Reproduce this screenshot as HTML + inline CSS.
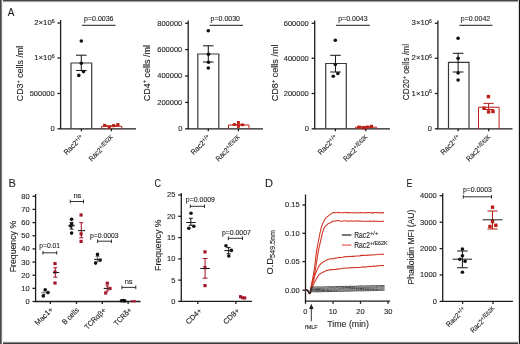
<!DOCTYPE html>
<html><head><meta charset="utf-8"><style>
html,body{margin:0;padding:0;background:#fff;}
body{width:520px;height:344px;overflow:hidden;}
svg{display:block;will-change:transform;font-family:"Liberation Sans",sans-serif;}
text{stroke:#231f20;stroke-width:0.12px;}
</style></head><body>
<svg width="520" height="344" viewBox="0 0 520 344">
<rect x="0" y="0" width="520" height="344" fill="#fff"/>
<text x="7.7" y="15.6" font-size="11" text-anchor="start" fill="#231f20" textLength="6.6" lengthAdjust="spacingAndGlyphs" >A</text>
<text x="8.6" y="187.1" font-size="11" text-anchor="start" fill="#231f20" >B</text>
<text x="154.6" y="187.1" font-size="11" text-anchor="start" fill="#231f20" textLength="6.5" lengthAdjust="spacingAndGlyphs" >C</text>
<text x="265" y="187.1" font-size="11" text-anchor="start" fill="#231f20" >D</text>
<text x="406.4" y="187.0" font-size="11" text-anchor="start" fill="#231f20" textLength="5.9" lengthAdjust="spacingAndGlyphs" >E</text>
<line x1="60.6" y1="20" x2="60.6" y2="128.8" stroke="#1e1c1c" stroke-width="1.3" />
<line x1="57.5" y1="23" x2="60.6" y2="23" stroke="#1e1c1c" stroke-width="1.3" />
<text x="54.7" y="25.2" font-size="7.8" text-anchor="end" fill="#1e1c1c">2×10<tspan font-size="5.2" dy="-2.5">6</tspan></text>
<line x1="57.5" y1="58" x2="60.6" y2="58" stroke="#1e1c1c" stroke-width="1.3" />
<text x="54.7" y="60.2" font-size="7.8" text-anchor="end" fill="#1e1c1c">1×10<tspan font-size="5.2" dy="-2.5">6</tspan></text>
<line x1="57.5" y1="93.5" x2="60.6" y2="93.5" stroke="#1e1c1c" stroke-width="1.3" />
<text x="54.7" y="95.95" font-size="7.5" text-anchor="end" fill="#231f20" >500000</text>
<line x1="57.5" y1="128.8" x2="60.6" y2="128.8" stroke="#1e1c1c" stroke-width="1.3" />
<text x="54.7" y="131.25" font-size="7.5" text-anchor="end" fill="#231f20" >0</text>
<line x1="59.95" y1="128.8" x2="136" y2="128.8" stroke="#1e1c1c" stroke-width="1.3" />
<line x1="81.4" y1="128.8" x2="81.4" y2="131.3" stroke="#1e1c1c" stroke-width="1.3" />
<line x1="111.4" y1="128.8" x2="111.4" y2="131.3" stroke="#1e1c1c" stroke-width="1.3" />
<path d="M71.0 128.8 V63.0 H91.7 V128.8" stroke="#3a3a3a" stroke-width="1.2" fill="none"/>
<line x1="81.3" y1="55.2" x2="81.3" y2="70.5" stroke="#1e1c1c" stroke-width="1.05" />
<line x1="76.0" y1="55.2" x2="86.6" y2="55.2" stroke="#1e1c1c" stroke-width="1.05" />
<line x1="76.0" y1="70.5" x2="86.6" y2="70.5" stroke="#1e1c1c" stroke-width="1.05" />
<circle cx="81.3" cy="41" r="1.8" fill="#111"/>
<circle cx="81.3" cy="63.3" r="1.8" fill="#111"/>
<circle cx="83.5" cy="71.6" r="1.8" fill="#111"/>
<circle cx="78.8" cy="75.4" r="1.8" fill="#111"/>
<path d="M101.6 128.8 V126.3 H121.8 V128.8" stroke="#bb1e16" stroke-width="1.0" fill="none"/>
<line x1="104.5" y1="125.8" x2="118" y2="125.8" stroke="#bb1e16" stroke-width="1" />
<rect x="103.15" y="123.85" width="3.1" height="3.1" fill="#bb1e16"/>
<rect x="107.75" y="125.85" width="3.1" height="3.1" fill="#bb1e16"/>
<rect x="112.05" y="124.05" width="3.1" height="3.1" fill="#bb1e16"/>
<rect x="116.35" y="123.05" width="3.1" height="3.1" fill="#bb1e16"/>
<text x="98.8" y="20.6" font-size="7.5" text-anchor="middle" fill="#231f20" textLength="29.4" lengthAdjust="spacingAndGlyphs" >p=0.0036</text>
<line x1="82" y1="25.3" x2="115.6" y2="25.3" stroke="#1e1c1c" stroke-width="1" />
<text x="23.3" y="73.5" font-size="9.6" text-anchor="middle" fill="#1e1c1c" textLength="55.5" lengthAdjust="spacingAndGlyphs" transform="rotate(-90 23.3 73.5)">CD3<tspan font-size="6.2" dy="-3.6">+</tspan><tspan dy="3.6"> cells /ml</tspan></text>
<text x="84.1" y="137.9" font-size="7.5" text-anchor="end" fill="#1e1c1c" textLength="24.6" lengthAdjust="spacingAndGlyphs" transform="rotate(-45 84.1 137.9)">Rac2<tspan font-size="6.0" dy="-2.1">+/+</tspan></text>
<text x="114.7" y="138.7" font-size="7.5" text-anchor="end" fill="#1e1c1c" textLength="32.5" lengthAdjust="spacingAndGlyphs" transform="rotate(-45 114.7 138.7)">Rac2<tspan font-size="6.0" dy="-2.1">+/E62K</tspan></text>
<line x1="188.2" y1="20.5" x2="188.2" y2="128.8" stroke="#1e1c1c" stroke-width="1.3" />
<line x1="185.1" y1="23.25" x2="188.2" y2="23.25" stroke="#1e1c1c" stroke-width="1.3" />
<text x="182.29999999999998" y="25.7" font-size="7.5" text-anchor="end" fill="#231f20" >800000</text>
<line x1="185.1" y1="49.6" x2="188.2" y2="49.6" stroke="#1e1c1c" stroke-width="1.3" />
<text x="182.29999999999998" y="52.050000000000004" font-size="7.5" text-anchor="end" fill="#231f20" >600000</text>
<line x1="185.1" y1="76" x2="188.2" y2="76" stroke="#1e1c1c" stroke-width="1.3" />
<text x="182.29999999999998" y="78.45" font-size="7.5" text-anchor="end" fill="#231f20" >400000</text>
<line x1="185.1" y1="102.4" x2="188.2" y2="102.4" stroke="#1e1c1c" stroke-width="1.3" />
<text x="182.29999999999998" y="104.85000000000001" font-size="7.5" text-anchor="end" fill="#231f20" >200000</text>
<line x1="185.1" y1="128.8" x2="188.2" y2="128.8" stroke="#1e1c1c" stroke-width="1.3" />
<text x="182.29999999999998" y="131.25" font-size="7.5" text-anchor="end" fill="#231f20" >0</text>
<line x1="187.54999999999998" y1="128.8" x2="263" y2="128.8" stroke="#1e1c1c" stroke-width="1.3" />
<line x1="208.3" y1="128.8" x2="208.3" y2="131.3" stroke="#1e1c1c" stroke-width="1.3" />
<line x1="238.4" y1="128.8" x2="238.4" y2="131.3" stroke="#1e1c1c" stroke-width="1.3" />
<path d="M197.8 128.8 V54.0 H218.8 V128.8" stroke="#3a3a3a" stroke-width="1.2" fill="none"/>
<line x1="208.3" y1="45.8" x2="208.3" y2="62" stroke="#1e1c1c" stroke-width="1.05" />
<line x1="203.0" y1="45.8" x2="213.60000000000002" y2="45.8" stroke="#1e1c1c" stroke-width="1.05" />
<line x1="203.0" y1="62" x2="213.60000000000002" y2="62" stroke="#1e1c1c" stroke-width="1.05" />
<circle cx="208.3" cy="30.8" r="1.8" fill="#111"/>
<circle cx="208.5" cy="54.3" r="1.8" fill="#111"/>
<circle cx="208.5" cy="62.2" r="1.8" fill="#111"/>
<circle cx="208.3" cy="68" r="1.8" fill="#111"/>
<path d="M228.5 128.8 V125.0 H249.0 V128.8" stroke="#bb1e16" stroke-width="1.0" fill="none"/>
<line x1="238.4" y1="121.6" x2="238.4" y2="126.5" stroke="#bb1e16" stroke-width="1" />
<line x1="236.9" y1="121.6" x2="239.9" y2="121.6" stroke="#bb1e16" stroke-width="1" />
<line x1="236.9" y1="126.5" x2="239.9" y2="126.5" stroke="#bb1e16" stroke-width="1" />
<rect x="233.10" y="123.10" width="2.8" height="2.8" fill="#bb1e16"/>
<rect x="237.00" y="121.40" width="2.8" height="2.8" fill="#bb1e16"/>
<rect x="237.00" y="125.10" width="2.8" height="2.8" fill="#bb1e16"/>
<rect x="240.90" y="123.40" width="2.8" height="2.8" fill="#bb1e16"/>
<line x1="232" y1="124.8" x2="245" y2="124.8" stroke="#bb1e16" stroke-width="1" />
<text x="225.3" y="20.6" font-size="7.5" text-anchor="middle" fill="#231f20" textLength="29.4" lengthAdjust="spacingAndGlyphs" >p=0.0030</text>
<line x1="209.5" y1="25.3" x2="243" y2="25.3" stroke="#1e1c1c" stroke-width="1" />
<text x="149.8" y="73.1" font-size="9.6" text-anchor="middle" fill="#1e1c1c" textLength="56.2" lengthAdjust="spacingAndGlyphs" transform="rotate(-90 149.8 73.1)">CD4<tspan font-size="6.2" dy="-3.6">+</tspan><tspan dy="3.6"> cells /ml</tspan></text>
<text x="211.1" y="137.9" font-size="7.5" text-anchor="end" fill="#1e1c1c" textLength="24.6" lengthAdjust="spacingAndGlyphs" transform="rotate(-45 211.1 137.9)">Rac2<tspan font-size="6.0" dy="-2.1">+/+</tspan></text>
<text x="241.7" y="138.7" font-size="7.5" text-anchor="end" fill="#1e1c1c" textLength="32.5" lengthAdjust="spacingAndGlyphs" transform="rotate(-45 241.7 138.7)">Rac2<tspan font-size="6.0" dy="-2.1">+/E62K</tspan></text>
<line x1="314.7" y1="20.5" x2="314.7" y2="128.8" stroke="#1e1c1c" stroke-width="1.3" />
<line x1="311.59999999999997" y1="23.25" x2="314.7" y2="23.25" stroke="#1e1c1c" stroke-width="1.3" />
<text x="308.8" y="25.7" font-size="7.5" text-anchor="end" fill="#231f20" >600000</text>
<line x1="311.59999999999997" y1="58.25" x2="314.7" y2="58.25" stroke="#1e1c1c" stroke-width="1.3" />
<text x="308.8" y="60.7" font-size="7.5" text-anchor="end" fill="#231f20" >400000</text>
<line x1="311.59999999999997" y1="93.5" x2="314.7" y2="93.5" stroke="#1e1c1c" stroke-width="1.3" />
<text x="308.8" y="95.95" font-size="7.5" text-anchor="end" fill="#231f20" >200000</text>
<line x1="311.59999999999997" y1="128.8" x2="314.7" y2="128.8" stroke="#1e1c1c" stroke-width="1.3" />
<text x="308.8" y="131.25" font-size="7.5" text-anchor="end" fill="#231f20" >0</text>
<line x1="314.05" y1="128.8" x2="390" y2="128.8" stroke="#1e1c1c" stroke-width="1.3" />
<line x1="335.4" y1="128.8" x2="335.4" y2="131.3" stroke="#1e1c1c" stroke-width="1.3" />
<line x1="365.8" y1="128.8" x2="365.8" y2="131.3" stroke="#1e1c1c" stroke-width="1.3" />
<path d="M325.7 128.8 V63.5 H346.3 V128.8" stroke="#3a3a3a" stroke-width="1.2" fill="none"/>
<line x1="335.5" y1="55.3" x2="335.5" y2="72" stroke="#1e1c1c" stroke-width="1.05" />
<line x1="330.2" y1="55.3" x2="340.8" y2="55.3" stroke="#1e1c1c" stroke-width="1.05" />
<line x1="330.2" y1="72" x2="340.8" y2="72" stroke="#1e1c1c" stroke-width="1.05" />
<circle cx="335.3" cy="40.3" r="1.8" fill="#111"/>
<circle cx="335.3" cy="64.5" r="1.8" fill="#111"/>
<circle cx="337.8" cy="73.5" r="1.8" fill="#111"/>
<circle cx="333.3" cy="76.3" r="1.8" fill="#111"/>
<path d="M355.5 128.8 V127.2 H376.5 V128.8" stroke="#bb1e16" stroke-width="1.0" fill="none"/>
<rect x="357.60" y="125.60" width="3.2" height="3.2" fill="#bb1e16"/>
<rect x="362.00" y="126.20" width="3.2" height="3.2" fill="#bb1e16"/>
<rect x="365.70" y="125.60" width="3.2" height="3.2" fill="#bb1e16"/>
<rect x="369.80" y="124.80" width="3.2" height="3.2" fill="#bb1e16"/>
<line x1="357" y1="126.8" x2="372" y2="126.8" stroke="#bb1e16" stroke-width="1" />
<text x="352.9" y="20.6" font-size="7.5" text-anchor="middle" fill="#231f20" textLength="29.4" lengthAdjust="spacingAndGlyphs" >p=0.0043</text>
<line x1="336" y1="25.3" x2="370" y2="25.3" stroke="#1e1c1c" stroke-width="1" />
<text x="278.3" y="72.9" font-size="9.6" text-anchor="middle" fill="#1e1c1c" textLength="56.8" lengthAdjust="spacingAndGlyphs" transform="rotate(-90 278.3 72.9)">CD8<tspan font-size="6.2" dy="-3.6">+</tspan><tspan dy="3.6"> cells /ml</tspan></text>
<text x="338.1" y="137.9" font-size="7.5" text-anchor="end" fill="#1e1c1c" textLength="24.6" lengthAdjust="spacingAndGlyphs" transform="rotate(-45 338.1 137.9)">Rac2<tspan font-size="6.0" dy="-2.1">+/+</tspan></text>
<text x="369.2" y="138.7" font-size="7.5" text-anchor="end" fill="#1e1c1c" textLength="32.5" lengthAdjust="spacingAndGlyphs" transform="rotate(-45 369.2 138.7)">Rac2<tspan font-size="6.0" dy="-2.1">+/E62K</tspan></text>
<line x1="437.9" y1="20.5" x2="437.9" y2="128.8" stroke="#1e1c1c" stroke-width="1.3" />
<line x1="434.79999999999995" y1="23.25" x2="437.9" y2="23.25" stroke="#1e1c1c" stroke-width="1.3" />
<text x="432.0" y="25.45" font-size="7.8" text-anchor="end" fill="#1e1c1c">3×10<tspan font-size="5.2" dy="-2.5">6</tspan></text>
<line x1="434.79999999999995" y1="58.25" x2="437.9" y2="58.25" stroke="#1e1c1c" stroke-width="1.3" />
<text x="432.0" y="60.45" font-size="7.8" text-anchor="end" fill="#1e1c1c">2×10<tspan font-size="5.2" dy="-2.5">6</tspan></text>
<line x1="434.79999999999995" y1="93.5" x2="437.9" y2="93.5" stroke="#1e1c1c" stroke-width="1.3" />
<text x="432.0" y="95.7" font-size="7.8" text-anchor="end" fill="#1e1c1c">1×10<tspan font-size="5.2" dy="-2.5">6</tspan></text>
<line x1="434.79999999999995" y1="128.8" x2="437.9" y2="128.8" stroke="#1e1c1c" stroke-width="1.3" />
<text x="432.0" y="131.25" font-size="7.5" text-anchor="end" fill="#231f20" >0</text>
<line x1="437.25" y1="128.8" x2="512.5" y2="128.8" stroke="#1e1c1c" stroke-width="1.3" />
<line x1="458.1" y1="128.8" x2="458.1" y2="131.3" stroke="#1e1c1c" stroke-width="1.3" />
<line x1="488.7" y1="128.8" x2="488.7" y2="131.3" stroke="#1e1c1c" stroke-width="1.3" />
<path d="M448.5 128.8 V62.3 H469.0 V128.8" stroke="#3a3a3a" stroke-width="1.2" fill="none"/>
<line x1="458.1" y1="53.3" x2="458.1" y2="72" stroke="#1e1c1c" stroke-width="1.05" />
<line x1="452.8" y1="53.3" x2="463.40000000000003" y2="53.3" stroke="#1e1c1c" stroke-width="1.05" />
<line x1="452.8" y1="72" x2="463.40000000000003" y2="72" stroke="#1e1c1c" stroke-width="1.05" />
<circle cx="458.1" cy="38.3" r="1.8" fill="#111"/>
<circle cx="458.1" cy="58.3" r="1.8" fill="#111"/>
<circle cx="458.1" cy="73" r="1.8" fill="#111"/>
<circle cx="458.1" cy="80" r="1.8" fill="#111"/>
<path d="M478.5 128.8 V107.2 H499.1 V128.8" stroke="#bb1e16" stroke-width="1.0" fill="none"/>
<line x1="488.6" y1="103.4" x2="488.6" y2="109.5" stroke="#bb1e16" stroke-width="1" />
<line x1="483.5" y1="103.4" x2="493.70000000000005" y2="103.4" stroke="#bb1e16" stroke-width="1" />
<line x1="483.5" y1="109.5" x2="493.70000000000005" y2="109.5" stroke="#bb1e16" stroke-width="1" />
<rect x="486.70" y="94.90" width="3.4" height="3.4" fill="#bb1e16"/>
<rect x="482.40" y="106.60" width="3.4" height="3.4" fill="#bb1e16"/>
<rect x="486.90" y="110.20" width="3.4" height="3.4" fill="#bb1e16"/>
<rect x="491.30" y="109.80" width="3.4" height="3.4" fill="#bb1e16"/>
<text x="475.5" y="20.6" font-size="7.5" text-anchor="middle" fill="#231f20" textLength="29.4" lengthAdjust="spacingAndGlyphs" >p=0.0042</text>
<line x1="459.3" y1="25.3" x2="492.5" y2="25.3" stroke="#1e1c1c" stroke-width="1" />
<text x="409.1" y="72.1" font-size="9.6" text-anchor="middle" fill="#1e1c1c" textLength="56.2" lengthAdjust="spacingAndGlyphs" transform="rotate(-90 409.1 72.1)">CD20<tspan font-size="6.2" dy="-3.6">+</tspan><tspan dy="3.6"> cells /ml</tspan></text>
<text x="460.90000000000003" y="137.9" font-size="7.5" text-anchor="end" fill="#1e1c1c" textLength="24.6" lengthAdjust="spacingAndGlyphs" transform="rotate(-45 460.90000000000003 137.9)">Rac2<tspan font-size="6.0" dy="-2.1">+/+</tspan></text>
<text x="492.2" y="138.7" font-size="7.5" text-anchor="end" fill="#1e1c1c" textLength="32.5" lengthAdjust="spacingAndGlyphs" transform="rotate(-45 492.2 138.7)">Rac2<tspan font-size="6.0" dy="-2.1">+/E62K</tspan></text>
<line x1="35.6" y1="194" x2="35.6" y2="301.5" stroke="#1e1c1c" stroke-width="1.3" />
<line x1="32.5" y1="196.25" x2="35.6" y2="196.25" stroke="#1e1c1c" stroke-width="1.3" />
<text x="29.700000000000003" y="198.7" font-size="7.5" text-anchor="end" fill="#231f20" >80</text>
<line x1="32.5" y1="209.4" x2="35.6" y2="209.4" stroke="#1e1c1c" stroke-width="1.3" />
<text x="29.700000000000003" y="211.85" font-size="7.5" text-anchor="end" fill="#231f20" >70</text>
<line x1="32.5" y1="222.6" x2="35.6" y2="222.6" stroke="#1e1c1c" stroke-width="1.3" />
<text x="29.700000000000003" y="225.04999999999998" font-size="7.5" text-anchor="end" fill="#231f20" >60</text>
<line x1="32.5" y1="235.75" x2="35.6" y2="235.75" stroke="#1e1c1c" stroke-width="1.3" />
<text x="29.700000000000003" y="238.2" font-size="7.5" text-anchor="end" fill="#231f20" >50</text>
<line x1="32.5" y1="248.9" x2="35.6" y2="248.9" stroke="#1e1c1c" stroke-width="1.3" />
<text x="29.700000000000003" y="251.35" font-size="7.5" text-anchor="end" fill="#231f20" >40</text>
<line x1="32.5" y1="262.05" x2="35.6" y2="262.05" stroke="#1e1c1c" stroke-width="1.3" />
<text x="29.700000000000003" y="264.5" font-size="7.5" text-anchor="end" fill="#231f20" >30</text>
<line x1="32.5" y1="275.2" x2="35.6" y2="275.2" stroke="#1e1c1c" stroke-width="1.3" />
<text x="29.700000000000003" y="277.65" font-size="7.5" text-anchor="end" fill="#231f20" >20</text>
<line x1="32.5" y1="288.35" x2="35.6" y2="288.35" stroke="#1e1c1c" stroke-width="1.3" />
<text x="29.700000000000003" y="290.8" font-size="7.5" text-anchor="end" fill="#231f20" >10</text>
<line x1="32.5" y1="301.5" x2="35.6" y2="301.5" stroke="#1e1c1c" stroke-width="1.3" />
<text x="29.700000000000003" y="303.95" font-size="7.5" text-anchor="end" fill="#231f20" >0</text>
<line x1="34.95" y1="301.5" x2="140.5" y2="301.5" stroke="#1e1c1c" stroke-width="1.3" />
<line x1="50.3" y1="301.5" x2="50.3" y2="304.0" stroke="#1e1c1c" stroke-width="1.3" />
<line x1="76.5" y1="301.5" x2="76.5" y2="304.0" stroke="#1e1c1c" stroke-width="1.3" />
<line x1="102.3" y1="301.5" x2="102.3" y2="304.0" stroke="#1e1c1c" stroke-width="1.3" />
<line x1="128.1" y1="301.5" x2="128.1" y2="304.0" stroke="#1e1c1c" stroke-width="1.3" />
<text x="15.6" y="246.6" font-size="9" text-anchor="middle" fill="#1e1c1c" textLength="51.5" lengthAdjust="spacingAndGlyphs" transform="rotate(-90 15.6 246.6)">Frequency %</text>
<text x="53.5" y="310.2" font-size="7.5" text-anchor="end" fill="#1e1c1c" textLength="22.1" lengthAdjust="spacingAndGlyphs" transform="rotate(-45 53.5 310.2)">Mac1+</text>
<text x="79.5" y="310.6" font-size="7.5" text-anchor="end" fill="#1e1c1c" textLength="20.5" lengthAdjust="spacingAndGlyphs" transform="rotate(-45 79.5 310.6)">B cells</text>
<text x="106.5" y="310.9" font-size="7.5" text-anchor="end" fill="#1e1c1c" textLength="27" lengthAdjust="spacingAndGlyphs" transform="rotate(-45 106.5 310.9)">TCRαβ+</text>
<text x="132.3" y="310.7" font-size="7.5" text-anchor="end" fill="#1e1c1c" textLength="22" lengthAdjust="spacingAndGlyphs" transform="rotate(-45 132.3 310.7)">TCRδ+</text>
<line x1="41.2" y1="292.8" x2="47.2" y2="292.8" stroke="#8a8a8a" stroke-width="1.2" />
<line x1="44.2" y1="291.2" x2="44.2" y2="294.4" stroke="#9a9a9a" stroke-width="0.9" />
<line x1="42.7" y1="291.2" x2="45.7" y2="291.2" stroke="#9a9a9a" stroke-width="0.9" />
<line x1="42.7" y1="294.4" x2="45.7" y2="294.4" stroke="#9a9a9a" stroke-width="0.9" />
<circle cx="45.2" cy="289.8" r="1.8" fill="#111"/>
<circle cx="48.0" cy="292.6" r="1.8" fill="#111"/>
<circle cx="43.3" cy="295.9" r="1.8" fill="#111"/>
<line x1="55.3" y1="267.7" x2="55.3" y2="277.2" stroke="#a6172c" stroke-width="1.05" />
<line x1="53.3" y1="267.7" x2="57.3" y2="267.7" stroke="#a6172c" stroke-width="1.05" />
<line x1="53.3" y1="277.2" x2="57.3" y2="277.2" stroke="#a6172c" stroke-width="1.05" />
<rect x="53.40" y="262.00" width="3.2" height="3.2" fill="#a6172c"/>
<rect x="53.40" y="270.40" width="3.2" height="3.2" fill="#a6172c"/>
<rect x="53.40" y="281.40" width="3.2" height="3.2" fill="#a6172c"/>
<line x1="52.9" y1="272.5" x2="59.2" y2="272.5" stroke="#1e1c1c" stroke-width="1.0" />
<line x1="42.9" y1="252.8" x2="56.7" y2="252.8" stroke="#1e1c1c" stroke-width="0.9" />
<line x1="42.9" y1="251.0" x2="42.9" y2="254.60000000000002" stroke="#1e1c1c" stroke-width="0.9" />
<line x1="56.7" y1="251.0" x2="56.7" y2="254.60000000000002" stroke="#1e1c1c" stroke-width="0.9" />
<text x="49.6" y="247.9" font-size="7.5" text-anchor="middle" fill="#231f20" textLength="20.6" lengthAdjust="spacingAndGlyphs" >p=0.01</text>
<line x1="71.6" y1="222.4" x2="71.6" y2="229.1" stroke="#1e1c1c" stroke-width="1.05" />
<line x1="69.69999999999999" y1="222.4" x2="73.5" y2="222.4" stroke="#1e1c1c" stroke-width="1.05" />
<line x1="69.69999999999999" y1="229.1" x2="73.5" y2="229.1" stroke="#1e1c1c" stroke-width="1.05" />
<circle cx="71.6" cy="219.2" r="1.8" fill="#111"/>
<circle cx="71.6" cy="224.3" r="1.8" fill="#111"/>
<circle cx="70.8" cy="226.0" r="1.8" fill="#111"/>
<circle cx="71.6" cy="233.1" r="1.8" fill="#111"/>
<line x1="68.2" y1="225.8" x2="74.8" y2="225.8" stroke="#1e1c1c" stroke-width="1.1" />
<line x1="81.3" y1="222.7" x2="81.3" y2="237.8" stroke="#a6172c" stroke-width="1.05" />
<line x1="79.3" y1="222.7" x2="83.3" y2="222.7" stroke="#a6172c" stroke-width="1.05" />
<line x1="79.3" y1="237.8" x2="83.3" y2="237.8" stroke="#a6172c" stroke-width="1.05" />
<rect x="79.50" y="213.40" width="3.2" height="3.2" fill="#a6172c"/>
<rect x="79.50" y="232.30" width="3.2" height="3.2" fill="#a6172c"/>
<rect x="79.50" y="239.80" width="3.2" height="3.2" fill="#a6172c"/>
<line x1="78" y1="230.6" x2="85.1" y2="230.6" stroke="#1e1c1c" stroke-width="1.1" />
<line x1="70.3" y1="201.5" x2="83.5" y2="201.5" stroke="#1e1c1c" stroke-width="0.9" />
<line x1="70.3" y1="199.7" x2="70.3" y2="203.3" stroke="#1e1c1c" stroke-width="0.9" />
<line x1="83.5" y1="199.7" x2="83.5" y2="203.3" stroke="#1e1c1c" stroke-width="0.9" />
<text x="77.4" y="197.7" font-size="7.5" text-anchor="middle" fill="#231f20" >ns</text>
<line x1="97.5" y1="256.6" x2="97.5" y2="261.6" stroke="#777" stroke-width="1.05" />
<line x1="95.6" y1="256.6" x2="99.4" y2="256.6" stroke="#777" stroke-width="1.05" />
<line x1="95.6" y1="261.6" x2="99.4" y2="261.6" stroke="#777" stroke-width="1.05" />
<circle cx="97.5" cy="254.4" r="1.8" fill="#111"/>
<circle cx="100.2" cy="260.1" r="1.8" fill="#111"/>
<circle cx="95.6" cy="263.1" r="1.8" fill="#111"/>
<line x1="94.2" y1="259.4" x2="99.2" y2="259.4" stroke="#1e1c1c" stroke-width="1.1" />
<line x1="107.3" y1="285.9" x2="107.3" y2="291" stroke="#a6172c" stroke-width="1.05" />
<line x1="105.55" y1="285.9" x2="109.05" y2="285.9" stroke="#a6172c" stroke-width="1.05" />
<line x1="105.55" y1="291" x2="109.05" y2="291" stroke="#a6172c" stroke-width="1.05" />
<rect x="105.70" y="281.60" width="3.2" height="3.2" fill="#a6172c"/>
<rect x="108.40" y="286.90" width="3.2" height="3.2" fill="#a6172c"/>
<rect x="104.10" y="291.40" width="3.2" height="3.2" fill="#a6172c"/>
<line x1="103.7" y1="288.4" x2="109" y2="288.4" stroke="#1e1c1c" stroke-width="1.1" />
<line x1="97.6" y1="241.2" x2="111.4" y2="241.2" stroke="#1e1c1c" stroke-width="0.9" />
<line x1="97.6" y1="239.39999999999998" x2="97.6" y2="243.0" stroke="#1e1c1c" stroke-width="0.9" />
<line x1="111.4" y1="239.39999999999998" x2="111.4" y2="243.0" stroke="#1e1c1c" stroke-width="0.9" />
<text x="104.3" y="237.7" font-size="7.5" text-anchor="middle" fill="#231f20" textLength="28.4" lengthAdjust="spacingAndGlyphs" >p=0.0003</text>
<circle cx="121.5" cy="300.8" r="1.8" fill="#111"/>
<circle cx="123.2" cy="300.6" r="1.8" fill="#111"/>
<circle cx="124.8" cy="300.9" r="1.8" fill="#111"/>
<line x1="131" y1="301.3" x2="135.7" y2="301.3" stroke="#a6172c" stroke-width="2.2" />
<line x1="121.9" y1="287.4" x2="135.8" y2="287.4" stroke="#1e1c1c" stroke-width="0.9" />
<line x1="121.9" y1="285.59999999999997" x2="121.9" y2="289.2" stroke="#1e1c1c" stroke-width="0.9" />
<line x1="135.8" y1="285.59999999999997" x2="135.8" y2="289.2" stroke="#1e1c1c" stroke-width="0.9" />
<text x="128.6" y="284" font-size="7.5" text-anchor="middle" fill="#231f20" >ns</text>
<line x1="181.3" y1="193" x2="181.3" y2="301.4" stroke="#1e1c1c" stroke-width="1.3" />
<line x1="178.20000000000002" y1="195.0" x2="181.3" y2="195.0" stroke="#1e1c1c" stroke-width="1.3" />
<text x="175.4" y="197.45" font-size="7.5" text-anchor="end" fill="#231f20" >25</text>
<line x1="178.20000000000002" y1="216.3" x2="181.3" y2="216.3" stroke="#1e1c1c" stroke-width="1.3" />
<text x="175.4" y="218.75" font-size="7.5" text-anchor="end" fill="#231f20" >20</text>
<line x1="178.20000000000002" y1="237.6" x2="181.3" y2="237.6" stroke="#1e1c1c" stroke-width="1.3" />
<text x="175.4" y="240.04999999999998" font-size="7.5" text-anchor="end" fill="#231f20" >15</text>
<line x1="178.20000000000002" y1="258.9" x2="181.3" y2="258.9" stroke="#1e1c1c" stroke-width="1.3" />
<text x="175.4" y="261.34999999999997" font-size="7.5" text-anchor="end" fill="#231f20" >10</text>
<line x1="178.20000000000002" y1="280.1" x2="181.3" y2="280.1" stroke="#1e1c1c" stroke-width="1.3" />
<text x="175.4" y="282.55" font-size="7.5" text-anchor="end" fill="#231f20" >5</text>
<line x1="178.20000000000002" y1="301.4" x2="181.3" y2="301.4" stroke="#1e1c1c" stroke-width="1.3" />
<text x="175.4" y="303.84999999999997" font-size="7.5" text-anchor="end" fill="#231f20" >0</text>
<line x1="180.65" y1="301.4" x2="252" y2="301.4" stroke="#1e1c1c" stroke-width="1.3" />
<line x1="197.8" y1="301.4" x2="197.8" y2="303.9" stroke="#1e1c1c" stroke-width="1.3" />
<line x1="235.9" y1="301.4" x2="235.9" y2="303.9" stroke="#1e1c1c" stroke-width="1.3" />
<text x="160.9" y="245.2" font-size="9" text-anchor="middle" fill="#1e1c1c" textLength="51.5" lengthAdjust="spacingAndGlyphs" transform="rotate(-90 160.9 245.2)">Frequency %</text>
<text x="202.4" y="311.1" font-size="7.5" text-anchor="end" fill="#1e1c1c" transform="rotate(-45 202.4 311.1)">CD4+</text>
<text x="240" y="311.1" font-size="7.5" text-anchor="end" fill="#1e1c1c" transform="rotate(-45 240 311.1)">CD8+</text>
<line x1="190.8" y1="218.3" x2="190.8" y2="225.3" stroke="#1e1c1c" stroke-width="1.05" />
<line x1="188.8" y1="218.3" x2="192.8" y2="218.3" stroke="#1e1c1c" stroke-width="1.05" />
<line x1="188.8" y1="225.3" x2="192.8" y2="225.3" stroke="#1e1c1c" stroke-width="1.05" />
<circle cx="191" cy="213.3" r="1.8" fill="#111"/>
<circle cx="188.8" cy="228.3" r="1.8" fill="#111"/>
<circle cx="193.8" cy="226.3" r="1.8" fill="#111"/>
<line x1="186.2" y1="222.5" x2="195.6" y2="222.5" stroke="#1e1c1c" stroke-width="1.0" />
<line x1="205.1" y1="258.5" x2="205.1" y2="278.2" stroke="#a6172c" stroke-width="1.05" />
<line x1="202.6" y1="258.5" x2="207.6" y2="258.5" stroke="#a6172c" stroke-width="1.05" />
<line x1="202.6" y1="278.2" x2="207.6" y2="278.2" stroke="#a6172c" stroke-width="1.05" />
<rect x="203.40" y="250.30" width="3.2" height="3.2" fill="#a6172c"/>
<rect x="203.40" y="266.00" width="3.2" height="3.2" fill="#a6172c"/>
<rect x="203.40" y="284.00" width="3.2" height="3.2" fill="#a6172c"/>
<line x1="200.2" y1="268.5" x2="210.0" y2="268.5" stroke="#1e1c1c" stroke-width="1.0" />
<line x1="190.3" y1="206.3" x2="204.5" y2="206.3" stroke="#1e1c1c" stroke-width="0.9" />
<line x1="190.3" y1="204.5" x2="190.3" y2="208.10000000000002" stroke="#1e1c1c" stroke-width="0.9" />
<line x1="204.5" y1="204.5" x2="204.5" y2="208.10000000000002" stroke="#1e1c1c" stroke-width="0.9" />
<text x="200.4" y="202" font-size="7.5" text-anchor="middle" fill="#231f20" textLength="29.2" lengthAdjust="spacingAndGlyphs" >p=0.0009</text>
<line x1="228.6" y1="247.6" x2="228.6" y2="253.8" stroke="#1e1c1c" stroke-width="1.05" />
<line x1="226.6" y1="247.6" x2="230.6" y2="247.6" stroke="#1e1c1c" stroke-width="1.05" />
<line x1="226.6" y1="253.8" x2="230.6" y2="253.8" stroke="#1e1c1c" stroke-width="1.05" />
<circle cx="226" cy="245.7" r="1.8" fill="#111"/>
<circle cx="231.4" cy="250.4" r="1.8" fill="#111"/>
<circle cx="228.8" cy="256" r="1.8" fill="#111"/>
<line x1="224.4" y1="250.6" x2="233" y2="250.6" stroke="#1e1c1c" stroke-width="1.1" />
<rect x="239.00" y="295.10" width="3.0" height="3.0" fill="#a6172c"/>
<rect x="241.10" y="296.30" width="3.0" height="3.0" fill="#a6172c"/>
<rect x="243.30" y="296.50" width="3.0" height="3.0" fill="#a6172c"/>
<line x1="239.5" y1="297.6" x2="246" y2="297.6" stroke="#a6172c" stroke-width="1.5" />
<line x1="228.3" y1="238.3" x2="242.5" y2="238.3" stroke="#1e1c1c" stroke-width="0.9" />
<line x1="228.3" y1="236.5" x2="228.3" y2="240.10000000000002" stroke="#1e1c1c" stroke-width="0.9" />
<line x1="242.5" y1="236.5" x2="242.5" y2="240.10000000000002" stroke="#1e1c1c" stroke-width="0.9" />
<text x="236.4" y="234.5" font-size="7.5" text-anchor="middle" fill="#231f20" textLength="28.8" lengthAdjust="spacingAndGlyphs" >p=0.0007</text>
<line x1="305.5" y1="194.5" x2="305.5" y2="301.2" stroke="#1e1c1c" stroke-width="1.3" />
<line x1="302.4" y1="205.0" x2="305.5" y2="205.0" stroke="#1e1c1c" stroke-width="1.3" />
<text x="299.6" y="207.45" font-size="7.5" text-anchor="end" fill="#231f20" >0.15</text>
<line x1="302.4" y1="233.3" x2="305.5" y2="233.3" stroke="#1e1c1c" stroke-width="1.3" />
<text x="299.6" y="235.75" font-size="7.5" text-anchor="end" fill="#231f20" >0.10</text>
<line x1="302.4" y1="261.6" x2="305.5" y2="261.6" stroke="#1e1c1c" stroke-width="1.3" />
<text x="299.6" y="264.05" font-size="7.5" text-anchor="end" fill="#231f20" >0.05</text>
<line x1="302.4" y1="290.2" x2="305.5" y2="290.2" stroke="#1e1c1c" stroke-width="1.3" />
<text x="299.6" y="292.65" font-size="7.5" text-anchor="end" fill="#231f20" >0.00</text>
<line x1="304.85" y1="301.2" x2="390.2" y2="301.2" stroke="#1e1c1c" stroke-width="1.3" />
<line x1="305.5" y1="301.2" x2="305.5" y2="303.8" stroke="#1e1c1c" stroke-width="1.3" />
<line x1="333.0" y1="301.2" x2="333.0" y2="303.8" stroke="#1e1c1c" stroke-width="1.3" />
<line x1="360.5" y1="301.2" x2="360.5" y2="303.8" stroke="#1e1c1c" stroke-width="1.3" />
<line x1="388.0" y1="301.2" x2="388.0" y2="303.8" stroke="#1e1c1c" stroke-width="1.3" />
<text x="305.3" y="314.2" font-size="7.5" text-anchor="middle" fill="#231f20" >0</text>
<text x="332.8" y="314.2" font-size="7.5" text-anchor="middle" fill="#231f20" >10</text>
<text x="360.5" y="314.2" font-size="7.5" text-anchor="middle" fill="#231f20" >20</text>
<text x="388.2" y="314.2" font-size="7.5" text-anchor="middle" fill="#231f20" >30</text>
<text x="348.1" y="327.0" font-size="9.5" text-anchor="middle" fill="#231f20" textLength="41.6" lengthAdjust="spacingAndGlyphs" >Time (min)</text>
<text x="273.5" y="274.6" font-size="9.9" fill="#1e1c1c" textLength="16.6" lengthAdjust="spacingAndGlyphs" transform="rotate(-90 273.5 274.6)">O.D</text>
<text x="275.0" y="257.9" font-size="6.6" fill="#1e1c1c" textLength="28.0" lengthAdjust="spacingAndGlyphs" transform="rotate(-90 275.0 257.9)">549.5nm</text>
<line x1="311.3" y1="306.5" x2="311.3" y2="321.2" stroke="#1e1c1c" stroke-width="0.9" />
<path d="M311.3 303.8 L309.1 309 L313.5 309 Z" fill="#1e1c1c"/>
<text x="311.4" y="329" font-size="5.6" text-anchor="middle" fill="#231f20" textLength="12.6" lengthAdjust="spacingAndGlyphs" >fMLF</text>
<line x1="341.9" y1="235" x2="351.4" y2="235" stroke="#4a4a4a" stroke-width="1.5" />
<line x1="341.9" y1="245.1" x2="351.4" y2="245.1" stroke="#de6a55" stroke-width="1.3" />
<text x="354.3" y="238.3" font-size="8.4" fill="#1e1c1c"><tspan textLength="15.6" lengthAdjust="spacingAndGlyphs">Rac2</tspan><tspan font-size="5.6" dy="-3.1" textLength="8.4" lengthAdjust="spacingAndGlyphs">+/+</tspan></text>
<text x="354.3" y="248.2" font-size="8.4" fill="#1e1c1c"><tspan textLength="15.6" lengthAdjust="spacingAndGlyphs">Rac2</tspan><tspan font-size="5.6" dy="-3.1" textLength="17.8" lengthAdjust="spacingAndGlyphs">+/E62K</tspan></text>
<path d="M305.50 289.90 L306.48 289.95 L307.70 290.40 L308.39 291.70 L309.06 293.31 L309.70 293.60 L309.92 293.13 L310.12 292.43 L310.31 291.52 L310.50 290.44 L310.70 289.21 L310.90 287.88 L311.14 286.46 L311.40 285.00 L311.56 284.19 L311.72 283.34 L311.90 282.46 L312.08 281.74 L312.27 280.74 L312.46 279.56 L312.66 278.45 L312.86 277.58 L313.06 276.47 L313.26 275.63 L313.46 274.26 L313.65 273.28 L313.84 272.25 L314.03 271.35 L314.20 270.00 L314.34 268.94 L314.48 268.26 L314.61 267.20 L314.74 265.98 L314.87 265.35 L315.00 264.36 L315.12 263.22 L315.25 262.23 L315.37 260.82 L315.49 260.03 L315.61 259.09 L315.74 257.93 L315.86 256.78 L315.99 255.55 L316.11 254.76 L316.24 253.91 L316.37 253.15 L316.50 252.28 L316.67 250.85 L316.85 249.98 L317.03 248.53 L317.21 247.79 L317.39 246.59 L317.57 245.24 L317.75 244.66 L317.93 243.48 L318.11 242.77 L318.29 241.73 L318.47 240.40 L318.65 239.78 L318.83 239.10 L319.00 237.85 L319.24 236.68 L319.48 235.81 L319.71 234.24 L319.95 233.33 L320.18 232.04 L320.41 231.43 L320.64 230.33 L320.86 229.17 L321.08 228.07 L321.30 227.39 L321.71 226.11 L322.10 225.25 L322.49 223.83 L322.88 223.23 L323.30 222.42 L323.86 221.15 L324.44 220.16 L325.05 218.94 L325.70 218.28 L326.66 217.11 L327.69 216.35 L328.70 215.57 L329.60 214.92 L330.47 214.11 L331.50 213.65 L332.21 213.13 L332.88 212.79 L333.91 212.57 L335.70 212.67 L336.36 212.66 L337.04 212.53 L337.74 212.28 L338.48 212.68 L339.25 212.74 L340.09 212.77 L340.99 212.73 L341.96 212.77 L343.02 212.80 L344.18 212.58 L345.45 212.50 L346.83 212.70 L348.35 212.46 L350.00 212.79 L350.74 212.81 L351.54 212.84 L352.40 212.66 L353.31 212.89 L354.26 212.67 L355.26 212.60 L356.29 212.73 L357.36 212.94 L358.47 212.89 L359.59 212.83 L360.75 212.41 L361.91 212.73 L363.10 212.66 L364.29 212.76 L365.49 212.89 L366.69 212.54 L367.89 212.84 L369.09 212.48 L370.27 212.55 L371.44 212.90 L372.59 212.63 L373.72 212.93 L374.82 212.50 L375.89 212.54 L376.93 212.87 L377.92 212.49 L378.88 212.81 L379.78 213.02 L380.64 212.80 L381.44 212.89 L382.18 212.50 L382.85 212.87 L383.46 212.86 L384.00 212.85" fill="none" stroke="#d0301f" stroke-width="1.05" stroke-linejoin="round"/>
<path d="M305.50 289.90 L306.48 289.95 L307.70 290.40 L308.38 291.70 L309.03 293.31 L309.70 293.60 L309.95 293.13 L310.19 292.43 L310.42 291.52 L310.66 290.44 L310.91 289.21 L311.17 287.88 L311.47 286.46 L311.80 285.00 L311.99 284.19 L312.20 283.12 L312.42 282.67 L312.65 281.70 L312.89 280.44 L313.13 279.60 L313.38 278.57 L313.63 277.66 L313.88 276.70 L314.13 275.22 L314.37 274.10 L314.62 273.50 L314.85 272.16 L315.08 271.26 L315.30 269.70 L315.48 269.04 L315.65 268.24 L315.82 266.96 L315.98 266.39 L316.14 265.35 L316.30 263.79 L316.46 262.75 L316.62 262.01 L316.77 261.20 L316.93 259.82 L317.09 258.68 L317.24 257.77 L317.40 256.51 L317.55 255.62 L317.71 254.77 L317.87 253.84 L318.03 252.75 L318.20 251.84 L318.42 250.70 L318.64 249.72 L318.86 248.52 L319.09 247.28 L319.32 246.71 L319.55 245.50 L319.77 244.54 L320.00 243.27 L320.23 242.78 L320.45 241.75 L320.67 240.38 L320.89 239.61 L321.10 238.98 L321.30 238.13 L321.60 237.00 L321.87 235.49 L322.14 234.60 L322.39 233.42 L322.65 232.18 L322.91 231.39 L323.18 230.66 L323.48 229.79 L323.80 228.80 L324.45 227.63 L325.17 226.30 L325.91 225.60 L326.67 225.23 L327.40 224.35 L328.28 223.52 L329.16 223.24 L330.03 222.92 L330.90 222.50 L331.80 221.77 L332.71 221.31 L334.40 221.01 L335.04 221.10 L335.61 220.90 L336.16 220.79 L336.77 220.83 L337.48 220.55 L338.37 220.56 L339.51 220.97 L340.95 221.15 L342.76 220.94 L345.00 220.84 L345.67 220.71 L346.39 220.91 L347.18 221.21 L348.01 221.09 L348.90 220.96 L349.83 221.17 L350.80 220.80 L351.81 220.98 L352.86 221.26 L353.94 221.04 L355.05 220.99 L356.18 220.89 L357.34 221.07 L358.52 221.33 L359.71 220.77 L360.91 221.26 L362.12 221.30 L363.34 221.35 L364.55 221.28 L365.77 221.34 L366.98 221.18 L368.18 221.22 L369.37 221.16 L370.55 220.95 L371.70 221.45 L372.84 221.29 L373.95 221.08 L375.02 221.28 L376.07 221.28 L377.08 221.22 L378.05 221.23 L378.98 221.36 L379.86 221.42 L380.70 221.42 L381.48 221.34 L382.20 221.09 L382.86 221.22 L383.47 221.20 L384.00 221.45" fill="none" stroke="#d0301f" stroke-width="1.05" stroke-linejoin="round"/>
<path d="M305.50 289.90 L306.48 289.95 L307.70 290.40 L308.39 291.63 L309.05 293.16 L309.70 293.60 L310.03 293.05 L310.35 292.07 L310.68 290.82 L310.99 289.45 L311.30 288.13 L311.60 287.00 L311.94 285.90 L312.26 285.17 L312.57 284.21 L312.88 282.69 L313.20 281.65 L313.46 281.14 L313.71 280.08 L313.96 279.01 L314.21 277.76 L314.49 276.89 L314.80 275.86 L315.14 274.81 L315.52 273.48 L315.91 272.57 L316.31 271.51 L316.71 270.72 L317.10 270.00 L317.63 268.83 L318.14 267.60 L318.68 266.65 L319.30 265.66 L320.05 264.63 L320.88 263.76 L321.75 263.21 L322.60 262.39 L323.68 261.57 L324.76 261.15 L325.90 260.32 L326.76 259.99 L327.61 259.54 L328.58 259.18 L329.80 259.10 L330.65 258.79 L331.59 258.82 L332.61 258.90 L333.69 258.49 L334.79 257.99 L335.90 258.22 L337.00 257.98 L337.75 257.81 L338.22 257.81 L338.58 257.63 L339.01 257.56 L339.69 257.20 L340.80 257.46 L342.51 257.29 L345.00 256.60 L345.64 256.90 L346.33 256.82 L347.09 256.61 L347.90 256.59 L348.77 256.50 L349.68 256.70 L350.64 256.37 L351.64 256.49 L352.68 256.13 L353.76 256.37 L354.86 256.30 L355.99 255.96 L357.15 255.94 L358.32 256.06 L359.52 255.86 L360.72 255.63 L361.94 255.39 L363.16 255.36 L364.39 255.50 L365.61 255.09 L366.83 255.45 L368.04 254.98 L369.24 255.29 L370.43 254.84 L371.60 255.15 L372.74 254.92 L373.86 254.72 L374.95 254.65 L376.01 254.65 L377.03 254.54 L378.01 254.31 L378.95 254.18 L379.84 254.30 L380.68 254.50 L381.46 254.25 L382.19 253.87 L382.86 254.27 L383.46 254.17 L384.00 254.24" fill="none" stroke="#d0301f" stroke-width="1.05" stroke-linejoin="round"/>
<path d="M305.50 289.90 L306.48 289.95 L307.70 290.40 L308.36 291.59 L309.00 293.09 L309.70 293.60 L310.10 293.16 L310.53 292.32 L310.98 291.24 L311.42 290.07 L311.84 288.94 L312.20 287.84 L312.63 286.94 L312.96 285.90 L313.29 285.13 L313.70 284.18 L314.22 282.76 L314.81 281.61 L315.41 280.98 L316.00 279.56 L316.56 278.49 L317.11 277.91 L317.65 276.63 L318.20 276.00 L318.89 274.92 L319.59 274.33 L320.40 273.39 L321.40 273.01 L322.51 272.51 L323.70 271.71 L324.64 271.44 L325.62 271.02 L326.62 270.32 L327.60 270.45 L328.81 270.10 L330.00 269.76 L331.40 269.42 L332.37 269.79 L333.40 269.42 L334.50 269.42 L335.70 269.38 L337.00 269.13 L337.67 269.17 L338.10 268.79 L338.46 268.97 L338.91 268.69 L339.62 268.90 L340.76 268.76 L342.50 268.15 L345.00 267.98 L345.64 267.98 L346.33 268.38 L347.09 268.01 L347.90 268.06 L348.77 267.81 L349.68 267.87 L350.64 267.73 L351.64 267.63 L352.68 267.70 L353.76 267.63 L354.86 267.74 L355.99 267.53 L357.15 267.60 L358.32 267.47 L359.52 267.47 L360.72 267.20 L361.94 266.81 L363.16 267.14 L364.39 267.12 L365.61 267.00 L366.83 266.72 L368.04 266.72 L369.24 266.34 L370.43 266.63 L371.60 266.39 L372.74 266.14 L373.86 265.93 L374.95 266.33 L376.01 266.34 L377.03 265.73 L378.01 266.09 L378.95 265.79 L379.84 265.58 L380.68 265.60 L381.46 265.84 L382.19 265.85 L382.86 265.31 L383.46 265.61 L384.00 265.23" fill="none" stroke="#d0301f" stroke-width="1.05" stroke-linejoin="round"/>
<path d="M305.50 289.90 L306.48 289.95 L307.70 290.40 L308.72 292.43 L309.70 293.60 L310.03 292.53 L310.25 290.61 L310.67 288.59 L311.60 287.20 L311.97 286.78 L311.80 286.74 L312.29 286.89 L314.63 287.01 L320.00 287.02 L320.89 286.91 L321.88 287.03 L322.95 287.01 L324.11 286.94 L325.34 286.79 L326.64 286.85 L328.01 286.77 L329.45 286.72 L330.95 286.85 L332.50 286.83 L334.10 286.56 L335.74 286.72 L337.43 286.62 L339.15 286.53 L340.91 286.46 L342.69 286.51 L344.49 286.42 L346.32 286.43 L348.15 286.38 L350.00 286.21 L351.85 286.32 L353.70 286.33 L355.55 286.29 L357.38 286.16 L359.21 285.98 L361.01 285.93 L362.79 285.92 L364.55 286.07 L366.27 285.88 L367.96 285.85 L369.60 285.94 L371.20 285.76 L372.75 285.78 L374.25 285.72 L375.68 285.60 L377.06 285.69 L378.36 285.73 L379.59 285.53 L380.75 285.52 L381.82 285.54 L382.81 285.43 L383.70 285.52 L384.50 285.58" fill="none" stroke="#2e2e2e" stroke-width="0.9"/>
<path d="M305.50 289.90 L306.48 289.95 L307.70 290.40 L308.72 292.36 L309.70 293.60 L310.10 292.30 L310.49 290.07 L311.60 288.40 L311.97 288.06 L311.80 288.02 L312.29 288.12 L314.63 288.26 L320.00 288.30 L320.89 288.17 L321.88 288.16 L322.95 288.15 L324.11 288.03 L325.34 288.08 L326.64 288.08 L328.01 288.08 L329.45 287.88 L330.95 287.90 L332.50 287.81 L334.10 287.95 L335.74 287.88 L337.43 287.68 L339.15 287.87 L340.91 287.82 L342.69 287.71 L344.49 287.66 L346.32 287.51 L348.15 287.43 L350.00 287.51 L351.85 287.35 L353.70 287.34 L355.55 287.31 L357.38 287.22 L359.21 287.28 L361.01 287.23 L362.79 287.29 L364.55 287.17 L366.27 287.16 L367.96 287.08 L369.60 287.09 L371.20 287.00 L372.75 286.92 L374.25 287.06 L375.68 287.02 L377.06 286.95 L378.36 286.89 L379.59 286.77 L380.75 286.72 L381.82 286.71 L382.81 286.64 L383.70 286.78 L384.50 286.68" fill="none" stroke="#2e2e2e" stroke-width="0.9"/>
<path d="M305.50 289.90 L306.48 289.95 L307.70 290.40 L308.72 292.28 L309.70 293.60 L310.25 291.81 L311.60 289.60 L311.97 289.34 L311.80 289.31 L312.29 289.39 L314.63 289.50 L320.00 289.44 L320.89 289.29 L321.88 289.24 L322.95 289.30 L324.11 289.25 L325.34 289.35 L326.64 289.29 L328.01 289.24 L329.45 289.19 L330.95 289.18 L332.50 289.02 L334.10 289.06 L335.74 288.95 L337.43 289.09 L339.15 288.85 L340.91 288.99 L342.69 288.77 L344.49 288.87 L346.32 288.75 L348.15 288.72 L350.00 288.78 L351.85 288.54 L353.70 288.51 L355.55 288.67 L357.38 288.53 L359.21 288.39 L361.01 288.56 L362.79 288.51 L364.55 288.27 L366.27 288.31 L367.96 288.20 L369.60 288.20 L371.20 288.24 L372.75 288.09 L374.25 288.19 L375.68 288.00 L377.06 287.99 L378.36 288.12 L379.59 287.99 L380.75 287.97 L381.82 287.99 L382.81 287.93 L383.70 287.89 L384.50 287.79" fill="none" stroke="#2e2e2e" stroke-width="0.9"/>
<path d="M305.50 289.90 L306.48 289.95 L307.70 290.40 L308.72 292.21 L309.70 293.60 L310.25 292.41 L311.60 290.80 L311.97 290.61 L311.80 290.60 L312.29 290.59 L314.63 290.73 L320.00 290.64 L320.89 290.66 L321.88 290.48 L322.95 290.47 L324.11 290.42 L325.34 290.41 L326.64 290.50 L328.01 290.32 L329.45 290.39 L330.95 290.28 L332.50 290.26 L334.10 290.26 L335.74 290.31 L337.43 290.22 L339.15 290.04 L340.91 290.06 L342.69 289.99 L344.49 290.12 L346.32 290.06 L348.15 290.02 L350.00 289.98 L351.85 289.92 L353.70 289.92 L355.55 289.84 L357.38 289.67 L359.21 289.77 L361.01 289.64 L362.79 289.67 L364.55 289.58 L366.27 289.51 L367.96 289.45 L369.60 289.43 L371.20 289.36 L372.75 289.28 L374.25 289.42 L375.68 289.38 L377.06 289.39 L378.36 289.29 L379.59 289.23 L380.75 289.25 L381.82 289.07 L382.81 289.18 L383.70 289.11 L384.50 289.02" fill="none" stroke="#2e2e2e" stroke-width="0.9"/>
<path d="M305.50 289.90 L306.48 289.95 L307.70 290.40 L308.72 292.14 L309.70 293.60 L310.25 292.96 L311.60 291.90 L311.97 291.78 L311.80 291.77 L312.29 291.70 L314.63 291.84 L320.00 291.74 L320.89 291.79 L321.88 291.60 L322.95 291.58 L324.11 291.67 L325.34 291.62 L326.64 291.51 L328.01 291.57 L329.45 291.47 L330.95 291.53 L332.50 291.34 L334.10 291.33 L335.74 291.45 L337.43 291.29 L339.15 291.23 L340.91 291.32 L342.69 291.24 L344.49 291.08 L346.32 291.14 L348.15 291.13 L350.00 290.97 L351.85 291.04 L353.70 290.88 L355.55 290.89 L357.38 290.79 L359.21 290.78 L361.01 290.92 L362.79 290.75 L364.55 290.85 L366.27 290.68 L367.96 290.68 L369.60 290.71 L371.20 290.63 L372.75 290.46 L374.25 290.54 L375.68 290.52 L377.06 290.38 L378.36 290.34 L379.59 290.50 L380.75 290.38 L381.82 290.28 L382.81 290.33 L383.70 290.25 L384.50 290.37" fill="none" stroke="#2e2e2e" stroke-width="0.9"/>
<line x1="442.7" y1="193.2" x2="442.7" y2="301.4" stroke="#1e1c1c" stroke-width="1.3" />
<line x1="439.59999999999997" y1="195.75" x2="442.7" y2="195.75" stroke="#1e1c1c" stroke-width="1.3" />
<text x="436.8" y="198.2" font-size="7.5" text-anchor="end" fill="#231f20" >4000</text>
<line x1="439.59999999999997" y1="222.2" x2="442.7" y2="222.2" stroke="#1e1c1c" stroke-width="1.3" />
<text x="436.8" y="224.64999999999998" font-size="7.5" text-anchor="end" fill="#231f20" >3000</text>
<line x1="439.59999999999997" y1="248.6" x2="442.7" y2="248.6" stroke="#1e1c1c" stroke-width="1.3" />
<text x="436.8" y="251.04999999999998" font-size="7.5" text-anchor="end" fill="#231f20" >2000</text>
<line x1="439.59999999999997" y1="275.0" x2="442.7" y2="275.0" stroke="#1e1c1c" stroke-width="1.3" />
<text x="436.8" y="277.45" font-size="7.5" text-anchor="end" fill="#231f20" >1000</text>
<line x1="439.59999999999997" y1="301.4" x2="442.7" y2="301.4" stroke="#1e1c1c" stroke-width="1.3" />
<text x="436.8" y="303.84999999999997" font-size="7.5" text-anchor="end" fill="#231f20" >0</text>
<line x1="442.05" y1="301.4" x2="513" y2="301.4" stroke="#1e1c1c" stroke-width="1.3" />
<line x1="462.6" y1="301.4" x2="462.6" y2="303.9" stroke="#1e1c1c" stroke-width="1.3" />
<line x1="493.0" y1="301.4" x2="493.0" y2="303.9" stroke="#1e1c1c" stroke-width="1.3" />
<text x="413.6" y="247" font-size="9" text-anchor="middle" fill="#1e1c1c" textLength="75" lengthAdjust="spacingAndGlyphs" transform="rotate(-90 413.6 247)">Phalloidin MFI (AU)</text>
<text x="466.30000000000007" y="310.2" font-size="7.5" text-anchor="end" fill="#1e1c1c" textLength="24.6" lengthAdjust="spacingAndGlyphs" transform="rotate(-45 466.30000000000007 310.2)">Rac2<tspan font-size="6.0" dy="-2.1">+/+</tspan></text>
<text x="496.2" y="310.3" font-size="7.5" text-anchor="end" fill="#1e1c1c" textLength="32.5" lengthAdjust="spacingAndGlyphs" transform="rotate(-45 496.2 310.3)">Rac2<tspan font-size="6.0" dy="-2.1">+/E62K</tspan></text>
<line x1="462.4" y1="251" x2="462.4" y2="267.7" stroke="#1e1c1c" stroke-width="1.05" />
<line x1="457.15" y1="251" x2="467.65" y2="251" stroke="#1e1c1c" stroke-width="1.05" />
<line x1="457.15" y1="267.7" x2="467.65" y2="267.7" stroke="#1e1c1c" stroke-width="1.05" />
<circle cx="462.4" cy="249.1" r="1.8" fill="#111"/>
<circle cx="462.4" cy="255.7" r="1.8" fill="#111"/>
<circle cx="459.8" cy="259.2" r="1.8" fill="#111"/>
<circle cx="465.1" cy="261.2" r="1.8" fill="#111"/>
<circle cx="462.4" cy="272.3" r="1.8" fill="#111"/>
<line x1="452.6" y1="259.2" x2="472" y2="259.2" stroke="#1e1c1c" stroke-width="1" />
<line x1="492.5" y1="211" x2="492.5" y2="229" stroke="#bb1e16" stroke-width="1.05" />
<line x1="487.5" y1="211" x2="497.5" y2="211" stroke="#bb1e16" stroke-width="1.05" />
<line x1="487.5" y1="229" x2="497.5" y2="229" stroke="#bb1e16" stroke-width="1.05" />
<rect x="490.80" y="205.50" width="3.4" height="3.4" fill="#bb1e16"/>
<rect x="490.80" y="219.80" width="3.4" height="3.4" fill="#bb1e16"/>
<rect x="488.30" y="224.80" width="3.4" height="3.4" fill="#bb1e16"/>
<rect x="494.10" y="223.60" width="3.4" height="3.4" fill="#bb1e16"/>
<line x1="482.5" y1="219.8" x2="502.5" y2="219.8" stroke="#1e1c1c" stroke-width="1" />
<line x1="463.3" y1="196.8" x2="491.5" y2="196.8" stroke="#1e1c1c" stroke-width="0.9" />
<line x1="463.3" y1="195.0" x2="463.3" y2="198.60000000000002" stroke="#1e1c1c" stroke-width="0.9" />
<line x1="491.5" y1="195.0" x2="491.5" y2="198.60000000000002" stroke="#1e1c1c" stroke-width="0.9" />
<text x="477.4" y="192.2" font-size="7.5" text-anchor="middle" fill="#231f20" textLength="29" lengthAdjust="spacingAndGlyphs" >p=0.0003</text>
<g shape-rendering="crispEdges">
<rect x="0" y="2" width="520" height="1" fill="#f6f6f6"/>
<rect x="0" y="1" width="520" height="1" fill="#a0a0a0"/>
<rect x="0" y="0" width="520" height="1" fill="#444"/>
<rect x="0" y="341" width="520" height="1" fill="#eeeeee"/>
<rect x="0" y="342" width="520" height="1" fill="#8a8a8a"/>
<rect x="0" y="343" width="520" height="1" fill="#3a3a3a"/>
<rect x="2" y="0" width="1" height="344" fill="#f0f0f0"/>
<rect x="1" y="0" width="1" height="344" fill="#808080"/>
<rect x="0" y="0" width="1" height="344" fill="#474747"/>
<rect x="518" y="0" width="1" height="344" fill="#d8d8d8"/>
<rect x="519" y="0" width="1" height="344" fill="#151515"/>
</g>
</svg>
</body></html>
